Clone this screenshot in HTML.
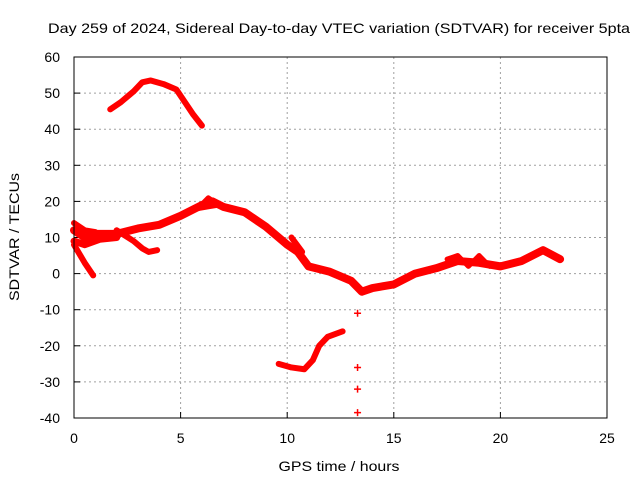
<!DOCTYPE html>
<html><head><meta charset="utf-8"><style>
body{margin:0;background:#fff}
svg{display:block;font-family:"Liberation Sans",sans-serif}
</style></head><body>
<svg id="c" width="640" height="480">
<rect width="640" height="480" fill="#fff"/>
<text x="339" y="33" font-size="14" text-anchor="middle" textLength="582" lengthAdjust="spacingAndGlyphs">Day 259 of 2024, Sidereal Day-to-day VTEC variation (SDTVAR) for receiver 5pta</text>
<text x="339" y="471" font-size="14" text-anchor="middle" textLength="121" lengthAdjust="spacingAndGlyphs">GPS time / hours</text>
<text transform="translate(19,237) rotate(-90)" font-size="14" text-anchor="middle" textLength="128" lengthAdjust="spacingAndGlyphs">SDTVAR / TECUs</text>
<g id="grid"></g><g id="marks"></g>
<rect x="74" y="57" width="533" height="361" fill="none" stroke="#000" stroke-width="1"/>
</svg>
<script>
const xTicks=[0,5,10,15,20,25];
const yTicks=[60,50,40,30,20,10,0,-10,-20,-30,-40];
const seriesArc=[[1.7,45.5],[2.2,47.5],[2.8,50.5],[3.2,53],[3.6,53.5],[4.2,52.5],[4.8,51],[5.2,47.5],[5.6,44],[6.0,41]];
const seriesMain=[[0,12],[0.5,10],[1,11],[2,11],[3,12.5],[4,13.5],[5,16],[6,19],[6.5,20],[7,18.5],[8,17],[8.5,15],[9,13],[10,8],[10.5,6],[11,2],[12,0.5],[13,-2],[13.5,-5],[14,-4],[15,-3],[16,0],[17,1.5],[18,3.5],[19,3],[20,2],[21,3.5],[22,6.5],[22.8,4]];
const seriesBranchA=[[0,14],[0.5,12],[1,11.5]];
const seriesBranchB=[[0,8],[0.5,3],[0.9,-0.5]];
const seriesBranchC=[[2,12],[2.8,9],[3.2,7],[3.5,6],[3.9,6.5]];
const seriesBranchD=[[0,9],[0.5,8],[1.2,9.5],[2,10]];
const seriesLoop=[[5.8,18],[6.3,21],[6.8,19],[6.3,18.5],[5.8,18]];
const seriesBranchE=[[10.2,10],[10.7,6]];
const seriesFluct=[[17.5,4],[18,5],[18.5,2],[19,5],[19.5,2]];
const seriesLower=[[9.6,-25],[10.2,-26],[10.8,-26.5],[11.2,-24],[11.5,-20],[11.9,-17.5],[12.6,-16]];
const crossX=[13.3,13.3,13.3,13.3];
const crossY=[-11,-26,-32,-38.5];
const X=h=>74+h*533/25, Y=v=>57+(60-v)*361/100;
const NS='http://www.w3.org/2000/svg';
const g=document.getElementById('grid'),m=document.getElementById('marks');
function mk(t,a,p){const e=document.createElementNS(NS,t);for(const k in a)e.setAttribute(k,a[k]);p.appendChild(e);return e;}
xTicks.forEach(t=>{
 const l=mk('line',{x1:X(t),x2:X(t),y1:57,y2:418,stroke:'#a0a0a0','stroke-dasharray':'2,3'},g);
 
 
 const tk=mk('line',{x1:X(t),x2:X(t),y1:418,y2:412,stroke:'#000'},g);
 
 
 const tx=mk('text',{x:X(t),y:443,'font-size':14,'text-anchor':'middle'},g);tx.textContent=t;
 
 
});
yTicks.forEach(t=>{
 const l=mk('line',{x1:74,x2:607,y1:Y(t),y2:Y(t),stroke:'#a0a0a0','stroke-dasharray':'2,3'},g);
 
 
 const tk=mk('line',{x1:74,x2:80,y1:Y(t),y2:Y(t),stroke:'#000'},g);
 
 
 const tx=mk('text',{x:60,y:Y(t)+5,'font-size':14,'text-anchor':'end'},g);tx.textContent=t;
 
 
});
[[seriesArc,6],[seriesMain,8],[seriesBranchA,6],[seriesBranchB,6],[seriesBranchC,6],[seriesBranchD,7],[seriesLoop,5],[seriesBranchE,6],[seriesFluct,5],[seriesLower,6]].forEach(([s,w])=>{
 const p=mk('polyline',{points:s.map(d=>X(d[0])+','+Y(d[1])).join(' '),fill:'none',stroke:'#f00','stroke-width':w,'stroke-linejoin':'round','stroke-linecap':'round'},m);
 
 
});
crossX.forEach((h,i)=>{
 const cx=X(h),cy=Y(crossY[i]);
 const p=mk('path',{d:`M${cx-3.5},${cy}H${cx+3.5}M${cx},${cy-3.5}V${cy+3.5}`,stroke:'#f00','stroke-width':1.5},m);
 
 
});
</script>
</body></html>
